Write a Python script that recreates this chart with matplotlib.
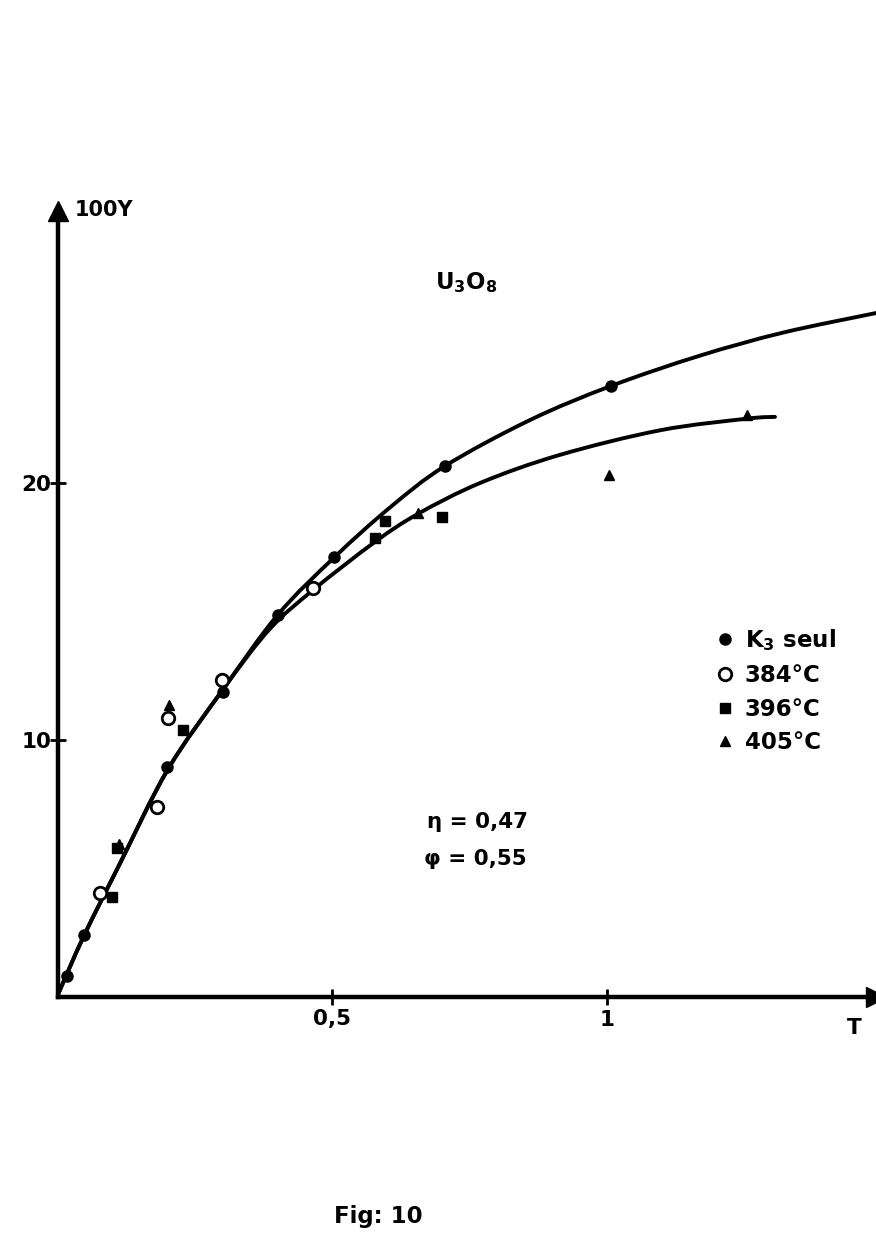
import matplotlib
matplotlib.use("Agg")
import matplotlib.pyplot as plt
from matplotlib.path import Path
from matplotlib.patches import PathPatch

plt.rcParams['font.family'] = ['DejaVu Sans']
plt.rcParams['font.weight'] = 'bold'
plt.rcParams['mathtext.fontset'] = 'dejavusans'
plt.rcParams['mathtext.default'] = 'bf'

# ---- data ----
k3_x = [0.016, 0.047, 0.199, 0.300, 0.401, 0.503, 0.705, 1.007]
k3_y = [0.80, 2.40, 8.95, 11.87, 14.86, 17.10, 20.66, 23.77]

t384_x = [0.077, 0.180, 0.200, 0.299, 0.465]
t384_y = [4.05, 7.39, 10.86, 12.33, 15.90]

t396_x = [0.098, 0.107, 0.228, 0.577, 0.596, 0.700]
t396_y = [3.90, 5.80, 10.39, 17.86, 18.50, 18.68]

t405_x = [0.112, 0.202, 0.656, 1.004, 1.255]
t405_y = [5.95, 11.36, 18.83, 20.30, 22.65]

# points
upper_x = [0.000, 0.047, 0.113, 0.200, 0.300, 0.400, 0.503, 0.605, 0.705,
           0.860, 1.007, 1.169, 1.321, 1.490]
upper_y = [0.10, 2.37, 5.20, 8.85, 11.95, 14.86, 17.10, 19.05, 20.66,
           22.45, 23.77, 24.95, 25.85, 26.61]

lower_x = [0.000, 0.047, 0.113, 0.200, 0.300, 0.385, 0.465, 0.577, 0.656,
           0.769, 0.914, 1.097, 1.255, 1.306]
lower_y = [0.10, 2.37, 5.20, 8.85, 11.95, 14.30, 15.84, 17.70, 18.80,
           20.00, 21.09, 22.05, 22.50, 22.57]

xticks = [0.5, 1.0]
xticklabels = ["0,5", "1"]
yticks = [10, 20]
yticklabels = ["10", "20"]

legend_labels = ["K$_3$ seul", "384°C", "396°C", "405°C"]


def smooth_path(xs, ys):
    """Cubic Bezier path passing through the given points (Catmull-Rom tangents)."""
    pts = list(zip(xs, ys))
    n = len(pts)
    verts = [pts[0]]
    codes = [Path.MOVETO]
    for i in range(n - 1):
        p0 = pts[i - 1] if i > 0 else pts[i]
        p1 = pts[i]
        p2 = pts[i + 1]
        p3 = pts[i + 2] if i + 2 < n else pts[i + 1]
        c1 = (p1[0] + (p2[0] - p0[0]) / 6, p1[1] + (p2[1] - p0[1]) / 6)
        c2 = (p2[0] - (p3[0] - p1[0]) / 6, p2[1] - (p3[1] - p1[1]) / 6)
        verts += [c1, c2, p2]
        codes += [Path.CURVE4] * 3
    return Path(verts, codes)


# ---- figure ----
W, H = 876, 1256
fig = plt.figure(figsize=(W / 100, H / 100), dpi=100)
fig.patch.set_facecolor("white")
ax = fig.add_axes([58 / W, 259 / H, 818 / W, 786 / H])
ax.set_xlim(0, 1.49)
ax.set_ylim(0, 30.58)

for s in ["top", "right"]:
    ax.spines[s].set_visible(False)
for s in ["left", "bottom"]:
    ax.spines[s].set_linewidth(3.2)
ax.set_facecolor("none")

# arrow heads
ax.plot(1, 0, marker=">", color="black", markersize=14, transform=ax.transAxes, clip_on=False)
ax.plot(0, 1, marker="^", color="black", markersize=14, transform=ax.transAxes, clip_on=False)

ax.set_xticks(xticks)
ax.set_xticklabels(xticklabels)
ax.set_yticks(yticks)
ax.set_yticklabels(yticklabels)
ax.tick_params(axis="x", direction="inout", length=12, width=2, pad=3, labelsize=15.5)
ax.tick_params(axis="y", direction="inout", length=12, width=2, pad=-1, labelsize=15.5)

lw_curve = 2.8
for xs, ys in [(upper_x, upper_y), (lower_x, lower_y)]:
    ax.add_patch(PathPatch(smooth_path(xs, ys), facecolor="none", edgecolor="black",
                           lw=lw_curve, capstyle="round", joinstyle="round"))

h1, = ax.plot(k3_x, k3_y, "o", color="black", markersize=8, linestyle="none")
h2, = ax.plot(t384_x, t384_y, "o", markerfacecolor="white", markeredgecolor="black",
              markeredgewidth=2, markersize=9, linestyle="none")
h3, = ax.plot(t396_x, t396_y, "s", color="black", markersize=7, linestyle="none")
h4, = ax.plot(t405_x, t405_y, "^", color="black", markersize=7.5, linestyle="none")

leg = ax.legend([h1, h2, h3, h4], legend_labels, loc="upper left",
                bbox_to_anchor=(709 / W, (1256 - 618) / H), bbox_transform=fig.transFigure,
                frameon=False, handlelength=0.6, handletextpad=0.55, labelspacing=0.47,
                prop={"size": 16.5, "weight": "bold"}, borderaxespad=0)

ax.text(0.031, 30.6, "100Y", fontsize=15, fontweight="bold", va="center", ha="left", clip_on=False)
ax.text(1.45, -1.2, "T", fontsize=15.5, fontweight="bold", va="center", ha="center", clip_on=False)
ax.text(0.743, 27.8, "U$_3$O$_8$", fontsize=16.5, fontweight="bold", va="center", ha="center")
ax.text(0.672, 6.8, "η = 0,47", fontsize=15.5, fontweight="bold", va="center", ha="left")
ax.text(0.667, 5.35, "φ = 0,55", fontsize=15.5, fontweight="bold", va="center", ha="left")

fig.text(378 / W, 1 - 1216 / H, "Fig: 10", fontsize=16.5, fontweight="bold", ha="center", va="center")

fig.savefig("out.png", dpi=100, facecolor="white")
